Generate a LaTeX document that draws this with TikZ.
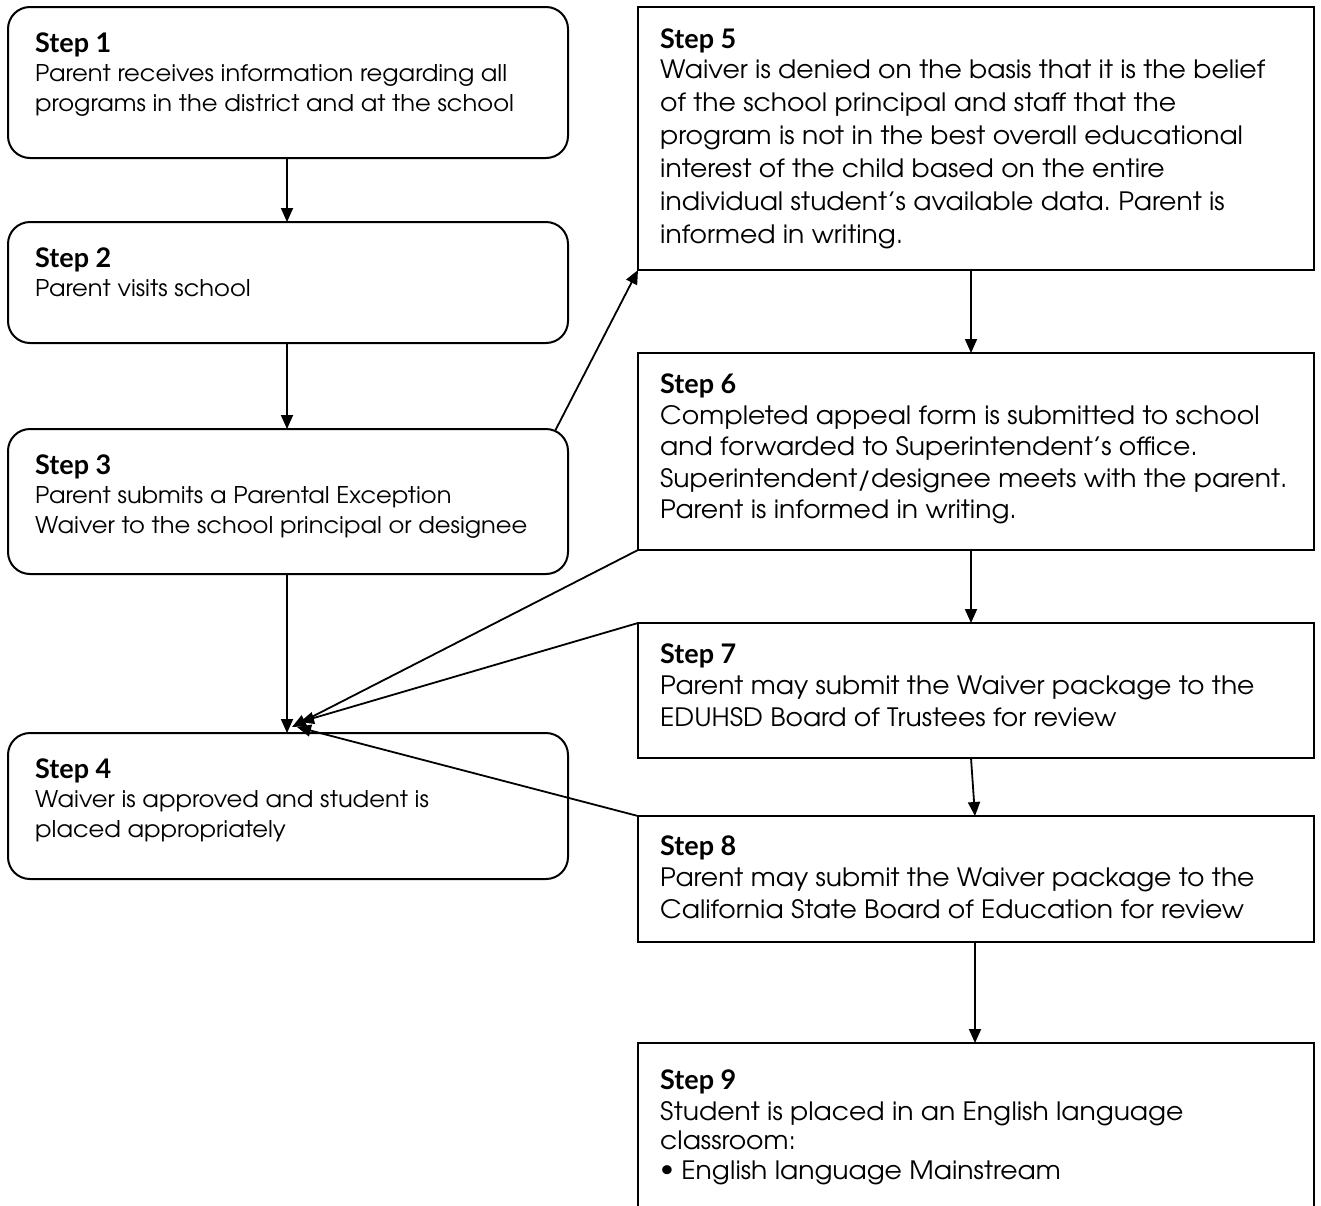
\documentclass[tikz,border=0pt]{standalone}
\usepackage{fontspec}
\setmainfont{TeX Gyre Adventor}[FakeStretch=1.052]
\newfontfamily\lblfont{Lato}
\usetikzlibrary{arrows.meta}
\frenchspacing
\newcommand\bodylines[2][30pt]{\vtop{\baselineskip=#1\relax\lineskiplimit=-100pt\lineskip=0pt\halign{##\hfil\cr#2\crcr}}}
\begin{document}
\begin{tikzpicture}[x=1pt,y=-1pt,
  lbox/.style={draw, line width=2pt, rounded corners=22pt, anchor=north west, inner sep=0pt, outer sep=0pt, minimum width=560pt},
  rbox/.style={draw, line width=2pt, anchor=north west, inner sep=0pt, outer sep=0pt, minimum width=676pt},
  lbl/.style={anchor=base west, inner sep=0pt, font=\lblfont\bfseries\fontsize{27}{30}\selectfont},
  lbody/.style={anchor=base west, inner sep=0pt, font=\fontsize{23}{30}\selectfont},
  rbody/.style={anchor=base west, inner sep=0pt, font=\fontsize{25.3}{33}\selectfont},
  arr/.style={line width=1.8pt, -{Triangle[length=14pt,width=12pt]}},
]
\fill[white] (0,0) rectangle (1321,1205);
\useasboundingbox (0,0) rectangle (1321,1205);

% left column
\node[lbox, minimum height=151pt] (s1) at (8,7) {};
\node[lbl] (l1) at (35,52) {Step 1};
\node[lbody] (t1) at (35,81) {\bodylines{Parent receives information regarding all\cr programs in the district and at the school}};

\node[lbox, minimum height=121pt] (s2) at (8,222) {};
\node[lbl] (l2) at (35,267) {Step 2};
\node[lbody] (t2) at (35,296) {\bodylines{Parent visits school}};

\node[lbox, minimum height=145pt] (s3) at (8,429) {};
\node[lbl] (l3) at (35,474) {Step 3};
\node[lbody] (t3) at (35,503) {\bodylines{Parent submits a Parental Exception\cr Waiver to the school principal or designee}};

\node[lbox, minimum height=146pt] (s4) at (8,733) {};
\node[lbl] (l4) at (35,778) {Step 4};
\node[lbody] (t4) at (35,807) {\bodylines{Waiver is approved and student is\cr placed appropriately}};

% right column
\node[rbox, minimum height=263pt] (s5) at (638,7) {};
\node[lbl] (l5) at (660,48) {Step 5};
\node[rbody] (t5) at (660,78) {\bodylines[33pt]{Waiver is denied on the basis that it is the belief\cr of the school principal and staff that the\cr program is not in the best overall educational\cr interest of the child based on the entire\cr individual student’s available data. Parent is\cr informed in writing.}};

\node[rbox, minimum height=197pt] (s6) at (638,353) {};
\node[lbl] (l6) at (660,393) {Step 6};
\node[rbody] (t6) at (660,424) {\bodylines[31.5pt]{Completed appeal form is submitted to school\cr and forwarded to Superintendent’s office.\cr Superintendent/designee meets with the parent.\cr Parent is informed in writing.}};

\node[rbox, minimum height=135pt] (s7) at (638,623) {};
\node[lbl] (l7) at (660,663) {Step 7};
\node[rbody] (t7) at (660,694) {\bodylines[32pt]{Parent may submit the Waiver package to the\cr EDUHSD Board of Trustees for review}};

\node[rbox, minimum height=126pt] (s8) at (638,816) {};
\node[lbl] (l8) at (660,855) {Step 8};
\node[rbody] (t8) at (660,886) {\bodylines[32pt]{Parent may submit the Waiver package to the\cr California State Board of Education for review}};

\node[rbox, minimum height=180pt] (s9) at (638,1043) {};
\node[lbl] (l9) at (660,1089) {Step 9};
\node[rbody] (t9) at (660,1120) {\bodylines[29.5pt]{Student is placed in an English language\cr classroom:\cr \raisebox{3pt}{•} English language Mainstream}};

% connectors
\draw[arr] ([xshift=-1pt]s1.south) -- ([xshift=-1pt]s2.north);
\draw[arr] ([xshift=-1pt]s2.south) -- ([xshift=-1pt]s3.north);
\draw[arr] ([xshift=-13pt,yshift=-2pt]s3.north east) -- (s5.south west);
\draw[arr] ([xshift=-5pt]s5.south) -- ([xshift=-5pt]s6.north);
\draw[arr] ([xshift=-5pt]s6.south) -- ([xshift=-5pt]s7.north);
\draw[arr] ([xshift=-5pt]s7.south) -- ([xshift=-1pt]s8.north);
\draw[arr] ([xshift=-1pt]s8.south) -- ([xshift=-1pt]s9.north);
\draw[arr] ([xshift=-1pt]s3.south) -- ([xshift=-1pt]s4.north);
\draw[arr] (s6.south west) -- ([xshift=4pt,yshift=6pt]s4.north);
\draw[arr] (s7.north west) -- ([xshift=12pt,yshift=11pt]s4.north);
\draw[arr] (s8.north west) -- ([xshift=9pt,yshift=6pt]s4.north);
\end{tikzpicture}
\end{document}
